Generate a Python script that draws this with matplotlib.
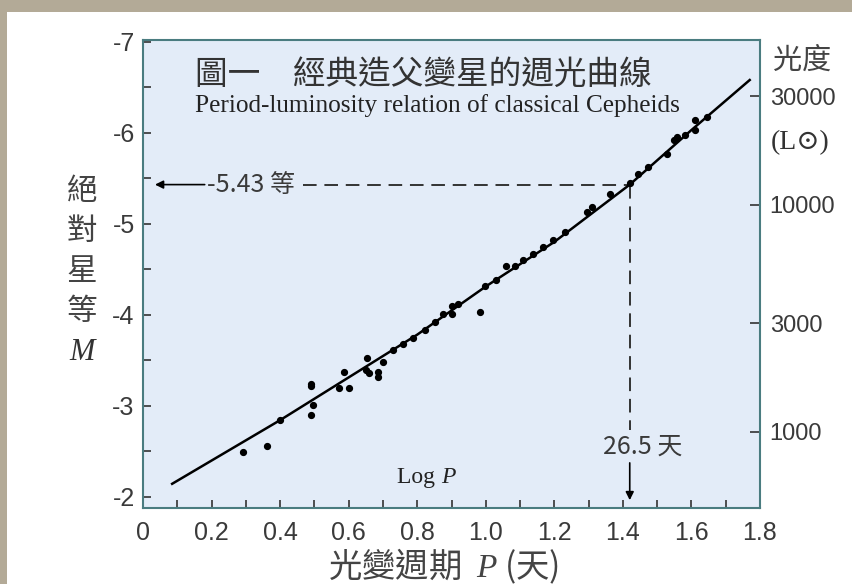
import numpy as np
import matplotlib.pyplot as plt
from matplotlib.patches import Rectangle
from matplotlib.ticker import MultipleLocator

plt.rcParams["axes.unicode_minus"] = False
plt.rcParams["mathtext.fontset"] = "custom"
plt.rcParams["mathtext.it"] = "Liberation Serif:italic"
plt.rcParams["mathtext.rm"] = "Liberation Serif"

# Cepheid data: log period (days) and absolute magnitude
log_p = [0.292, 0.361, 0.40, 0.489, 0.489, 0.489, 0.497, 0.572, 0.585, 0.601,
         0.653, 0.651, 0.66, 0.686, 0.686, 0.70, 0.729, 0.759, 0.788, 0.823,
         0.852, 0.876, 0.90, 0.90, 0.92, 0.983, 0.998, 1.03, 1.06, 1.085,
         1.11, 1.139, 1.168, 1.197, 1.232, 1.295, 1.31, 1.363, 1.42, 1.445,
         1.472, 1.528, 1.548, 1.558, 1.582, 1.611, 1.611, 1.645]
abs_mag = [-2.49, -2.56, -2.84, -3.21, -3.24, -2.90, -3.01, -3.19, -3.37, -3.19,
           -3.52, -3.39, -3.36, -3.37, -3.31, -3.48, -3.61, -3.68, -3.74, -3.83,
           -3.92, -4.01, -4.01, -4.09, -4.12, -4.03, -4.31, -4.38, -4.54, -4.53,
           -4.60, -4.67, -4.74, -4.82, -4.91, -5.13, -5.18, -5.33, -5.45, -5.55,
           -5.62, -5.77, -5.92, -5.95, -5.97, -6.03, -6.14, -6.17]

# period-luminosity curve as drawn
fit_logp = [0.085, 0.40, 0.80, 1.00, 1.20, 1.42, 1.60, 1.77]
fit_mag = [-2.14, -2.84, -3.78, -4.31, -4.80, -5.43, -6.03, -6.58]

lum_ticks = [1000, 3000, 10000, 30000]
x_ticks = [0, 0.2, 0.4, 0.6, 0.8, 1.0, 1.2, 1.4, 1.6, 1.8]
x_labels = ["0", "0.2", "0.4", "0.6", "0.8", "1.0", "1.2", "1.4", "1.6", "1.8"]

ex_logp = 1.42
ex_mag = -5.43
M_SUN = 4.79

cjk = ["Noto Sans CJK TC", "DejaVu Sans"]
serif = ["Liberation Serif", "DejaVu Serif"]
num = ["Liberation Sans Narrow", "Liberation Sans"]
txt = "#3a3a3a"

fig = plt.figure(figsize=(8.53, 5.84), dpi=100)
fig.patch.set_facecolor("#b3aa97")
fig.patches.append(Rectangle((7 / 853, 0), 1, 1 - 12 / 584, transform=fig.transFigure,
                             facecolor="white", edgecolor="none", zorder=-5))

ax = fig.add_axes([143 / 853, 76 / 584, 617 / 853, 468 / 584])
ax.set_facecolor("#e3ecf8")
for s in ax.spines.values():
    s.set_color("#4a7c80")
    s.set_linewidth(1.5)

ax.plot(fit_logp, fit_mag, color="black", lw=1.8, zorder=3)
ax.plot(log_p, abs_mag, "o", color="black", ms=4.2, zorder=4)

ax.set_xlim(0, 1.8)
ax.set_ylim(-1.874, -7.02)

ax.xaxis.set_minor_locator(MultipleLocator(0.1))
ax.set_xticks(x_ticks)
ax.set_xticklabels(x_labels)
ax.yaxis.set_major_locator(MultipleLocator(1))
ax.yaxis.set_minor_locator(MultipleLocator(0.5))
ax.tick_params(which="both", direction="in", length=6, width=1.2, color="#333333",
               top=False, right=False)
ax.tick_params(axis="x", pad=9, labelsize=18, labelcolor=txt)
ax.tick_params(axis="y", pad=6, labelsize=18, labelcolor=txt)
for lab in ax.get_xticklabels() + ax.get_yticklabels():
    lab.set_family(num)

# luminosity axis on the right
sec = ax.secondary_yaxis("right", functions=(lambda m: 10 ** ((M_SUN - np.asarray(m)) / 2.5),
                                             lambda l: M_SUN - 2.5 * np.log10(np.clip(l, 1e-9, None))))
sec.set_yticks(lum_ticks)
sec.set_yticklabels([str(v) for v in lum_ticks])
sec.minorticks_off()
sec.spines["right"].set_visible(False)
sec.tick_params(direction="in", length=7, width=1.2, color="#333333", pad=7,
                labelsize=17, labelcolor=txt)
for lab in sec.get_yticklabels():
    lab.set_family(num)

# guide lines for the worked example
ax.plot([0.467, ex_logp], [ex_mag, ex_mag], color="#333333", lw=1.4,
        ls=(0, (7, 4)), zorder=2)
ax.plot([ex_logp, ex_logp], [ex_mag, -2.73], color="#333333", lw=1.4,
        ls=(0, (7, 4)), zorder=2)
ax.annotate("", xy=(0.035, ex_mag), xytext=(0.18, ex_mag),
            arrowprops=dict(arrowstyle="-|>", color="black", lw=1.2,
                            mutation_scale=12, shrinkA=0, shrinkB=0))
ax.annotate("", xy=(ex_logp, -1.96), xytext=(ex_logp, -2.37),
            arrowprops=dict(arrowstyle="-|>", color="black", lw=1.2,
                            mutation_scale=12, shrinkA=0, shrinkB=0))
ax.text(0.187, ex_mag, "-5.43 等", family=num[:1] + cjk, fontsize=18, color=txt,
        ha="left", va="center")
ax.text(1.457, -2.55, "26.5 天", family=num[:1] + cjk, fontsize=18, color=txt,
        ha="center", va="center")
ax.text(0.87, -2.21, "Log ", family=serif, fontsize=17, color="#222222",
        ha="right", va="center")
ax.text(0.87, -2.21, "P", family=serif, style="italic", fontsize=17, color="#222222",
        ha="left", va="center")

# titles
fig.text(195 / 853, 1 - 75 / 584, "圖一　經典造父變星的週光曲線", family=cjk, fontsize=23.5,
         color="#333333", ha="left", va="center")
fig.text(195 / 853, 1 - 106 / 584, "Period-luminosity relation of classical Cepheids",
         family=serif, fontsize=18.2, color="#222222", ha="left", va="center")

# left axis label, stacked characters
for ch, yy in zip(["絕", "對", "星", "等"], [192, 231, 272, 312]):
    fig.text(82 / 853, 1 - yy / 584, ch, family=cjk, fontsize=22, color="#444444",
             ha="center", va="center")
fig.text(82 / 853, 1 - 353 / 584, "M", family=serif, style="italic", fontsize=22,
         color="#333333", ha="center", va="center")

# right axis label
fig.text(802 / 853, 1 - 61 / 584, "光度", family=cjk, fontsize=21, color="#444444",
         ha="center", va="center")
fig.text(800 / 853, 1 - 143 / 584, "(L⊙)", family=serif + ["DejaVu Sans"], fontsize=20,
         color="#333333", ha="center", va="center")

# bottom axis label
fig.text(443 / 853, 1 - 566 / 584, "光變週期  $P$ (天)", family=cjk, fontsize=24,
         color="#444444", ha="center", va="center")

fig.savefig("out.png", dpi=100, facecolor=fig.get_facecolor())
